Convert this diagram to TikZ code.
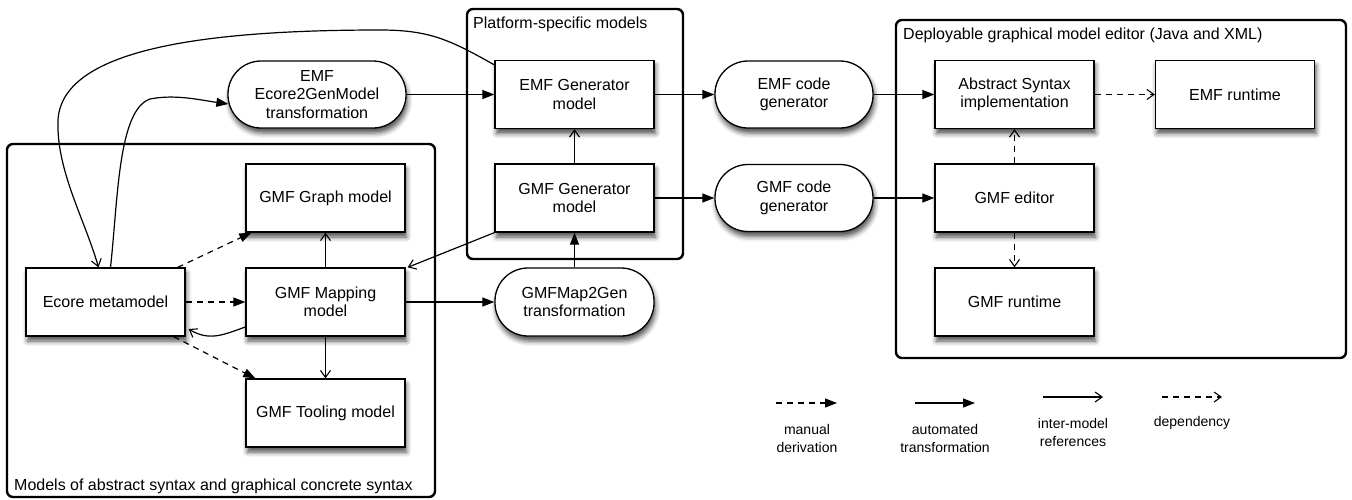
\documentclass[tikz,border=0pt]{standalone}
\usepackage{fontspec}
\setmainfont{Liberation Sans}
\usetikzlibrary{arrows.meta,shadows.blur,calc}
\begin{document}
\begin{tikzpicture}[x=1pt,y=-1pt,
  font=\fontsize{16}{18.5}\selectfont,
  box/.style={draw, line width=1.3pt, fill=white, minimum width=159pt, minimum height=68pt,
    inner sep=2pt, align=center,
    blur shadow={shadow xshift=1.5pt, shadow yshift=-5pt, shadow blur radius=5pt, shadow opacity=70}},
  pill/.style={box, rounded corners=33pt},
  frame/.style={draw, line width=2.4pt, rounded corners=6pt},
  flabel/.style={anchor=west, inner sep=0pt},
  conn/.style={line width=1.2pt},
  autoarr/.style={conn, -{Triangle[length=12pt,width=9pt]}},
  manarr/.style={conn, dash pattern=on 6pt off 5pt, -{Triangle[length=12pt,width=9pt]}},
  refarr/.style={conn, -{Straight Barb[length=7pt,width=10pt,line width=1.1pt]}},
  deparr/.style={conn, dash pattern=on 6pt off 5pt, -{Straight Barb[length=7pt,width=10pt,line width=1.1pt]}},
  legtext/.style={align=center, font=\fontsize{14}{18}\selectfont, inner sep=0pt}
]
\useasboundingbox (0,0) rectangle (1352,499);

% frames
\draw[frame] (7,144) rectangle (435,497);
\draw[frame] (467,9) rectangle (683,259);
\draw[frame] (896,20) rectangle (1346,358);
\node[flabel] (lblmodels) at (14,486) {Models of abstract syntax and graphical concrete syntax};
\node[flabel] (lblplat) at (473,24) {Platform-specific models};
\node[flabel] (lbldeploy) at (903,35) {Deployable graphical model editor (Java and XML)};

% nodes
\node[box] (ecore) at (105.5,302) {Ecore metamodel};
\node[box] (graph) at (325.5,198) {GMF Graph model};
\node[box] (mapping) at (325.5,302) {GMF Mapping\\model};
\node[box] (tooling) at (325.5,413) {GMF Tooling model};
\node[pill, minimum width=178pt, minimum height=67pt] (e2g) at (317,94.5) {EMF\\Ecore2GenModel\\transformation};
\node[box] (emfgen) at (574.5,94.5) {EMF Generator\\model};
\node[box] (gmfgen) at (574.5,198) {GMF Generator\\model};
\node[pill] (map2gen) at (574.5,302) {GMFMap2Gen\\transformation};
\node[pill, minimum width=158pt, minimum height=67pt] (emfcode) at (794,94.5) {EMF code\\generator};
\node[pill, minimum width=158pt, minimum height=67pt] (gmfcode) at (794,198) {GMF code\\generator};
\node[box] (asi) at (1014.5,94.5) {Abstract Syntax\\implementation};
\node[box] (emfrt) at (1235,94.5) {EMF runtime};
\node[box] (gmfed) at (1014.5,198) {GMF editor};
\node[box] (gmfrt) at (1014.5,302) {GMF runtime};

% automated transformations
\draw[autoarr] (e2g.east) -- (emfgen.west);
\draw[autoarr] (emfgen.east) -- (emfcode.west);
\draw[autoarr] (emfcode.east) -- (asi.west);
\draw[autoarr] (gmfgen.east) -- (gmfcode.west);
\draw[autoarr] (gmfcode.east) -- (gmfed.west);
\draw[autoarr] (map2gen.north) -- (gmfgen.south);
\draw[autoarr] (mapping.east) -- (map2gen.west);
\draw[autoarr] ($(ecore.north)+(5,0)$) .. controls (118,200) and (118,110) .. (150,99)
   .. controls (175,94) and (200,100) .. ($(e2g.west)+(1,9.5)$);

% manual derivations
\draw[manarr] ($(ecore.north east)+(-8,0)$) -- ($(graph.south west)+(6,0)$);
\draw[manarr] (ecore.east) -- (mapping.west);
\draw[manarr] ($(ecore.south east)+(-12,0)$) -- ($(tooling.north west)+(10,0)$);

% inter-model references
\draw[refarr] (gmfgen.north) -- (emfgen.south);
\draw[refarr] (mapping.north) -- (graph.south);
\draw[refarr] (mapping.south) -- (tooling.north);
\draw[refarr] (gmfgen.south west) -- ($(mapping.north east)+(2,0)$);
\draw[refarr] ($(mapping.west)+(0,25)$) .. controls (225,334) and (210,342) .. ($(ecore.east)+(3,27)$);
\draw[refarr] ($(emfgen.north west)+(0,5)$) .. controls (450,40) and (430,30) .. (380,30)
   .. controls (200,30) and (62,50) .. (58,120)
   .. controls (56,170) and (85,220) .. ($(ecore.north)+(-7,0)$);

% dependencies
\draw[deparr] (asi.east) -- (emfrt.west);
\draw[deparr] (gmfed.north) -- (asi.south);
\draw[deparr] (gmfed.south) -- (gmfrt.north);

% legend
\coordinate (l1a) at (776,403); \coordinate (l1b) at (837,403);
\coordinate (l2a) at (915,403); \coordinate (l2b) at (975,403);
\coordinate (l3a) at (1043,397); \coordinate (l3b) at (1103,397);
\coordinate (l4a) at (1162,397); \coordinate (l4b) at (1222,397);
\draw[manarr] (l1a) -- (l1b);
\draw[autoarr] (l2a) -- (l2b);
\draw[refarr] (l3a) -- (l3b);
\draw[deparr] (l4a) -- (l4b);
\node[legtext] (t1) at (807,438) {manual\\derivation};
\node[legtext] (t2) at (945,438) {automated\\transformation};
\node[legtext] (t3) at (1073,432) {inter-model\\references};
\node[legtext] (t4) at (1192,423) {dependency};
\end{tikzpicture}
\end{document}
